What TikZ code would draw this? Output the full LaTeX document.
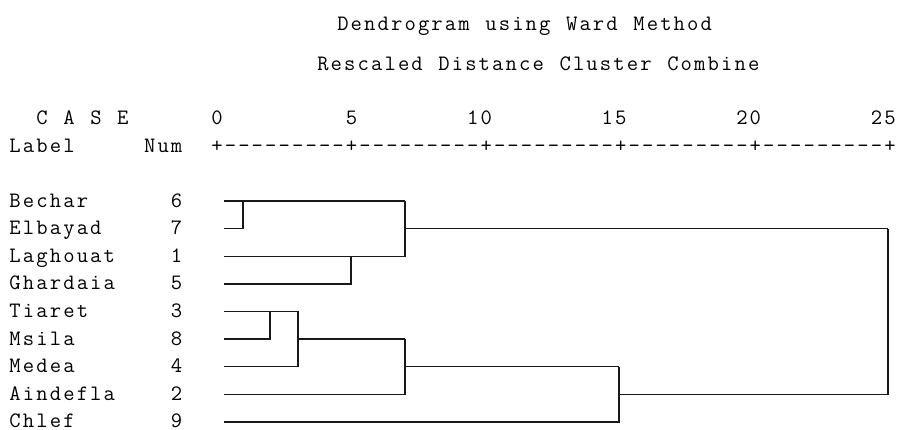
\documentclass[tikz,border=0pt]{standalone}
\usepackage{fontspec}
\newcommand\spssfont{\ttfamily\fontsize{22}{22}\selectfont}
\newcommand\cells[1]{\cellsA#1\relax}
\def\cellsA#1{\ifx\relax#1\else\makebox[13.46pt][c]{#1}\expandafter\cellsA\fi}
\tikzset{
  spss/.style={inner sep=0pt, outer sep=0pt, anchor=base west, font=\spssfont, text=black, text depth=0pt},
  link/.style={line width=1.4pt, draw=black!90},
}
\begin{document}
\begin{tikzpicture}[x=1pt,y=-1pt]
\useasboundingbox[fill=white] (0,0) rectangle (898,429);
% titles
\node[spss] (t1a) at (336.2,30) {\cells{Dendrogram}};
\node[spss] (t1b) at (484.3,30) {\cells{using}};
\node[spss] (t1c) at (565.0,30) {\cells{Ward}};
\node[spss] (t1d) at (632.3,30) {\cells{Method}};
\node[spss] (t2a) at (316.2,70) {\cells{Rescaled}};
\node[spss] (t2b) at (437.3,70) {\cells{Distance}};
\node[spss] (t2c) at (558.5,70) {\cells{Cluster}};
\node[spss] (t2d) at (666.2,70) {\cells{Combine}};
% header
\node[spss] (hC) at (35.3,124) {\cells{C}};
\node[spss] (hA) at (62.2,124) {\cells{A}};
\node[spss] (hS) at (89.2,124) {\cells{S}};
\node[spss] (hE) at (116.1,124) {\cells{E}};
\node[spss] (n0) at (210.3,124) {\cells{0}};
\node[spss] (n5) at (344.9,124) {\cells{5}};
\node[spss] (n10) at (466.0,124) {\cells{10}};
\node[spss] (n15) at (600.6,124) {\cells{15}};
\node[spss] (n20) at (735.2,124) {\cells{20}};
\node[spss] (n25) at (869.8,124) {\cells{25}};
\node[spss] (hLabel) at (8.4,152) {\cells{Label}};
\node[spss] (hNum) at (143.0,152) {\cells{Num}};
\node[spss] (axis) at (210.3,152) {\cells{+---------+---------+---------+---------+---------+}};
% rows
\foreach \nm/\num/\y [count=\k] in {Bechar/6/201,Elbayad/7/228.6,Laghouat/1/256.2,Ghardaia/5/283.8,Tiaret/3/311.4,Msila/8/339,Medea/4/366.6,Aindefla/2/394.2,Chlef/9/421.8}{
  \node[spss] (lab\k) at (8.4,\y+6) {\expandafter\cells\expandafter{\nm}};
  \node[spss] (num\k) at (169.9,\y+6) {\expandafter\cells\expandafter{\num}};
  \coordinate (s\k) at (224,\y);
}
% junctions
\coordinate (jA) at (243,201);
\coordinate (jB) at (351,256.2);
\coordinate (jT) at (405,201);
\coordinate (jC) at (270,311.4);
\coordinate (jD) at (298,311.4);
\coordinate (jE) at (405,339);
\coordinate (jF) at (619,366.6);
\coordinate (jR) at (888,228.6);
% links
\draw[link] (s1) -- (jT);
\draw[link] (s2) -| (jA);
\draw[link] (s4) -| (jB);
\draw[link] (s3) -| (jT);
\draw[link] (jT |- s2) -- (jR);
\draw[link] (s6) -| (jC);
\draw[link] (s5) -- (jD);
\draw[link] (s7) -| (jD);
\draw[link] (jD |- s6) -- (jE);
\draw[link] (s8) -| (jE);
\draw[link] (jE |- s7) -- (jF);
\draw[link] (s9) -| (jF);
\draw[link] (jF |- s8) -| (jR);
\end{tikzpicture}
\end{document}
